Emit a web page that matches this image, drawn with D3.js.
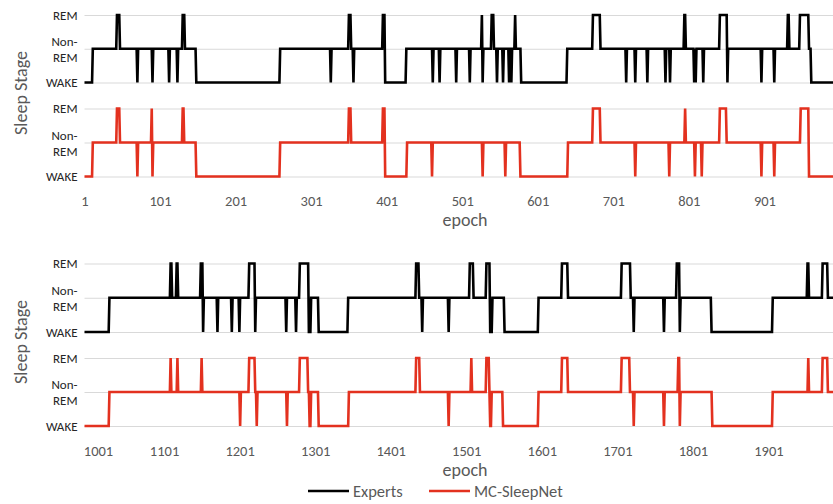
<!DOCTYPE html>
<html><head><meta charset="utf-8">
<script src="https://cdn.jsdelivr.net/npm/d3@7/dist/d3.min.js"></script>
<style>
body{margin:0;background:#fff;}
svg{display:block;font-family:Carlito,Lato,"Open Sans",sans-serif;}
</style></head><body>
<svg id="c" width="833" height="504"></svg>
<script>
// Sleep stage codes: 0 = WAKE, 1 = Non-REM, 2 = REM
const stageLabels = ["WAKE", "Non-REM", "REM"];
const ticksTop = [1, 101, 201, 301, 401, 501, 601, 701, 801, 901];
const ticksBottom = [1001, 1101, 1201, 1301, 1401, 1501, 1601, 1701, 1801, 1901];
const seriesNames = ["Experts", "MC-SleepNet"];
const seriesColors = ["#000000", "#e3311f"];

// Run-length encoded hypnograms: [start epoch, stage]; each run lasts until the next start
const expertsTop = [[1,0],[12,1],[44,2],[48,1],[71,0],[72,1],[91,0],[92,1],[113,0],[114,1],[124,0],[125,1],[131,2],[134,1],[149,0],[260,1],[327,0],[328,1],[351,2],[354,1],[357,0],[358,1],[396,2],[399,0],[427,1],[462,0],[463,1],[471,0],[472,1],[493,0],[494,1],[511,0],[512,1],[527,2],[528,0],[529,1],[540,2],[543,1],[547,0],[548,1],[555,0],[556,1],[563,0],[564,1],[566,0],[567,1],[571,2],[572,1],[579,0],[640,1],[674,2],[684,1],[718,0],[719,1],[730,0],[731,1],[746,0],[747,1],[770,0],[771,1],[776,0],[777,1],[795,2],[797,1],[808,0],[809,1],[810,0],[811,1],[820,0],[821,1],[842,2],[852,0],[853,1],[897,0],[898,1],[914,0],[915,1],[932,2],[934,1],[948,2],[960,1],[963,0],[1000,0]];
const sleepNetTop = [[1,0],[12,1],[44,2],[48,1],[71,0],[72,1],[90,2],[91,0],[92,1],[131,2],[133,1],[149,0],[260,1],[351,2],[354,1],[396,2],[399,0],[428,1],[461,0],[462,1],[528,0],[529,1],[558,0],[559,1],[578,0],[641,1],[674,2],[684,1],[730,0],[731,1],[775,0],[776,1],[796,2],[797,1],[809,0],[810,1],[818,0],[819,1],[842,2],[851,1],[897,0],[898,1],[914,0],[915,1],[949,2],[960,0],[1000,0]];
const expertsBottom = [[1001,0],[1034,1],[1115,2],[1117,1],[1123,2],[1125,1],[1155,2],[1158,0],[1159,1],[1177,0],[1178,1],[1196,0],[1197,1],[1206,0],[1207,1],[1219,2],[1227,0],[1228,1],[1268,0],[1269,1],[1281,0],[1282,1],[1286,2],[1298,0],[1301,1],[1311,0],[1350,1],[1440,2],[1444,1],[1448,0],[1449,1],[1483,0],[1484,1],[1511,2],[1516,1],[1533,2],[1538,0],[1541,1],[1557,0],[1602,1],[1633,2],[1641,1],[1712,2],[1724,1],[1728,0],[1729,1],[1768,0],[1769,1],[1785,2],[1789,0],[1790,1],[1831,0],[1912,1],[1958,2],[1960,1],[1978,2],[1985,1],[2000,1]];
const sleepNetBottom = [[1001,0],[1034,1],[1115,2],[1116,1],[1124,2],[1125,1],[1156,2],[1157,1],[1207,0],[1208,1],[1219,2],[1227,1],[1229,0],[1230,1],[1269,0],[1270,1],[1286,2],[1297,1],[1299,0],[1301,1],[1311,0],[1351,1],[1440,2],[1445,1],[1483,0],[1484,1],[1513,2],[1514,1],[1533,2],[1537,1],[1538,0],[1540,1],[1555,0],[1602,1],[1633,2],[1641,1],[1712,2],[1723,1],[1728,0],[1729,1],[1768,0],[1769,1],[1787,2],[1789,0],[1790,1],[1832,0],[1912,1],[1959,2],[1960,1],[1978,2],[1985,1],[2000,1]];

// expand runs into vertices (start and end of each run)
function runsToPoints(runs){
  const pts = [];
  for (let i = 0; i < runs.length; i++){
    const [s, v] = runs[i];
    pts.push([s, v]);
    if (i < runs.length - 1){
      const end = runs[i+1][0] - 1;
      if (end > s) pts.push([end, v]);
    }
  }
  return pts;
}

const svg = d3.select("#c");
const W = 833, left = 84.5, step = 0.7555;
svg.append("defs").append("clipPath").attr("id","clip")
  .append("rect").attr("x", 0).attr("y", 0).attr("width", W).attr("height", 504);

const panels = [
  {domain:[1,1001], ticks:ticksTop, series:[expertsTop, sleepNetTop], rows:[[15,82.5],[108.5,176.5]], labelShift:d=>0, axisY:176.5, titleY:93, epochY:226},
  {domain:[1001,2001], ticks:ticksBottom, series:[expertsBottom, sleepNetBottom], rows:[[263.5,332],[358,426]], labelShift:(d,i)=> i===0 ? 13.5 : 4, axisY:426, titleY:342, epochY:476}
];

panels.forEach(p => {
  const x = d3.scaleLinear().domain(p.domain).range([left, left + 1000*step]);
  const g = svg.append("g");
  p.rows.forEach((r, si) => {
    const y = d3.scaleLinear().domain([0,2]).range([r[1], r[0]]);
    const ax = g.append("g").attr("transform", `translate(${left},0)`)
      .call(d3.axisLeft(y).tickValues([0,1,2]).tickSize(-(W-left)).tickPadding(7)
        .tickFormat(d => stageLabels[d]));
    ax.select(".domain").remove();
    ax.selectAll(".tick line").attr("stroke", "#d9d9d9").attr("stroke-width", 1);
    ax.selectAll(".tick text").attr("fill", "#262626").attr("font-size", 13)
      .attr("font-family", "Carlito,Lato,sans-serif")
      .each(function(d){
        if (d === 1){
          const t = d3.select(this);
          t.text(null).attr("dy", null);
          t.append("tspan").attr("x", -7).attr("y", -3.2).text("Non-");
          t.append("tspan").attr("x", -7).attr("y", 12.8).text("REM");
        }
      });
    const line = d3.line().x(d => x(d[0])).y(d => y(d[1]));
    g.append("path").datum(runsToPoints(p.series[si]))
      .attr("clip-path", "url(#clip)")
      .attr("fill", "none").attr("stroke", seriesColors[si])
      .attr("stroke-width", 2.6).attr("stroke-linejoin", "miter").attr("stroke-miterlimit", 4)
      .attr("d", line);
  });
  const xa = g.append("g").attr("transform", `translate(0,${p.axisY})`)
    .call(d3.axisBottom(x).tickValues(p.ticks).tickSize(0).tickPadding(19.5).tickFormat(d3.format("d")));
  xa.select(".domain").remove();
  xa.selectAll(".tick text").attr("fill", "#595959").attr("font-size", 14.5)
    .attr("font-family", "Carlito,Lato,sans-serif")
    .attr("transform", (d,i) => `translate(${p.labelShift(d,i)},0)`);
  g.append("text").attr("x", 465).attr("y", p.epochY).attr("text-anchor", "middle")
    .attr("fill", "#595959").attr("font-size", 18).text("epoch");
  g.append("text").attr("transform", `translate(27,${p.titleY}) rotate(-90)`)
    .attr("text-anchor", "middle").attr("fill", "#595959").attr("font-size", 18).text("Sleep Stage");
});

// legend
const lg = svg.append("g");
const legX = [308, 429];
seriesNames.forEach((n, i) => {
  lg.append("line").attr("x1", legX[i]).attr("x2", legX[i] + 41).attr("y1", 491).attr("y2", 491)
    .attr("stroke", seriesColors[i]).attr("stroke-width", 2.6);
  lg.append("text").attr("x", legX[i] + 45).attr("y", 497).attr("fill", "#595959")
    .attr("font-size", 16.5).text(n);
});
</script></body></html>
